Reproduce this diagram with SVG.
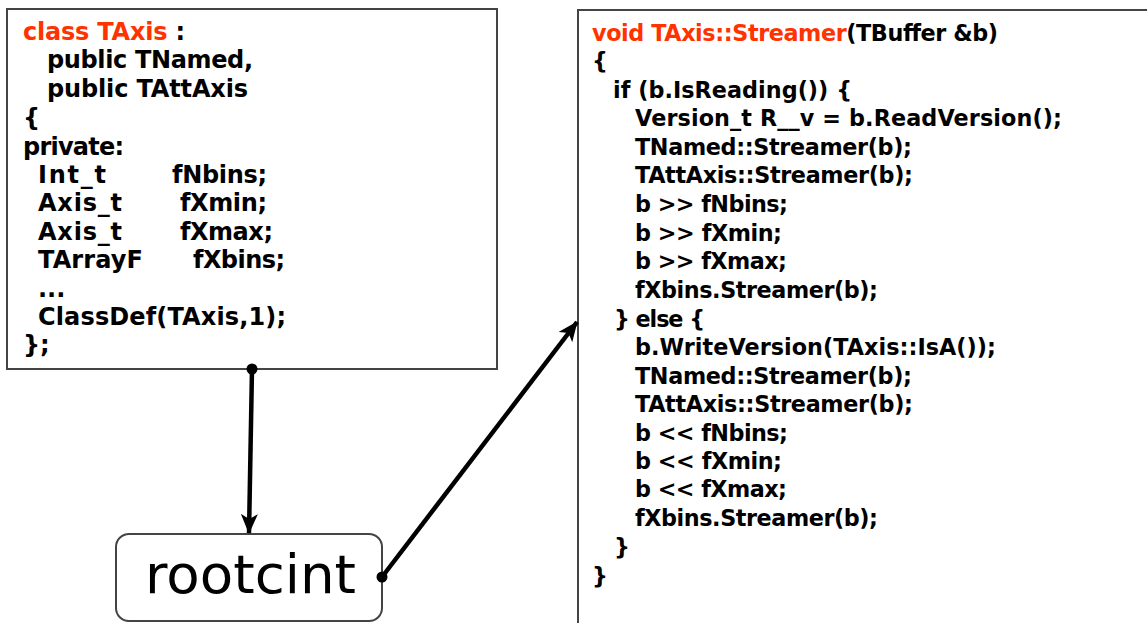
<svg xmlns="http://www.w3.org/2000/svg" width="1147" height="623" viewBox="0 0 1147 623">
<style>
.box{fill:#fff;stroke:#444;stroke-width:2}
.code{font-family:"DejaVu Sans",Verdana,sans-serif;font-weight:bold;fill:#000}
.l{font-size:24px}
.r{font-size:22.3px}
.red{fill:#ff3300}
.conn{stroke:#000;stroke-width:4.5;fill:none}
</style>
<defs>
<marker id="arr" markerWidth="22" markerHeight="18" refX="19" refY="8.5" orient="auto" markerUnits="userSpaceOnUse">
<path d="M0,0 L20,8.5 L0,17 L5,8.5 Z" fill="#000"/>
</marker>
</defs>
<rect width="1147" height="623" fill="#fff"/>
<g id="classdef">
<rect class="box" x="7" y="9" width="490" height="360"/>
<g class="code l">
<text x="23" y="40" textLength="162"><tspan class="red">class TAxis</tspan> :</text>
<text x="47" y="68" textLength="206">public TNamed,</text>
<text x="47" y="97" textLength="201">public TAttAxis</text>
<text x="23" y="126">{</text>
<text x="23" y="155" textLength="101">private:</text>
<text x="38" y="183" textLength="68">Int_t</text>
<text x="172" y="183" textLength="95">fNbins;</text>
<text x="38" y="211" textLength="84">Axis_t</text>
<text x="180" y="211" textLength="87">fXmin;</text>
<text x="38" y="240" textLength="84">Axis_t</text>
<text x="180" y="240" textLength="93">fXmax;</text>
<text x="38" y="268" textLength="105">TArrayF</text>
<text x="193" y="268" textLength="92">fXbins;</text>
<text x="38" y="297">...</text>
<text x="38" y="325" textLength="248">ClassDef(TAxis,1);</text>
<text x="23" y="353">};</text>
</g>
</g>
<g id="streamer">
<rect class="box" x="578" y="10" width="580" height="630"/>
<g class="code r">
<text x="592" y="41" textLength="406"><tspan class="red">void TAxis::Streamer</tspan>(TBuffer &amp;b)</text>
<text x="592" y="69">{</text>
<text x="613" y="98" textLength="239">if (b.IsReading()) {</text>
<text x="635" y="126" textLength="427">Version_t R__v = b.ReadVersion();</text>
<text x="635" y="155" textLength="277">TNamed::Streamer(b);</text>
<text x="635" y="183" textLength="278">TAttAxis::Streamer(b);</text>
<text x="635" y="212" textLength="153">b &gt;&gt; fNbins;</text>
<text x="635" y="241" textLength="147">b &gt;&gt; fXmin;</text>
<text x="635" y="269" textLength="152">b &gt;&gt; fXmax;</text>
<text x="635" y="298" textLength="243">fXbins.Streamer(b);</text>
<text x="614" y="327" textLength="91">} else {</text>
<text x="635" y="355" textLength="361">b.WriteVersion(TAxis::IsA());</text>
<text x="635" y="384" textLength="277">TNamed::Streamer(b);</text>
<text x="635" y="412" textLength="278">TAttAxis::Streamer(b);</text>
<text x="635" y="441" textLength="153">b &lt;&lt; fNbins;</text>
<text x="635" y="469" textLength="147">b &lt;&lt; fXmin;</text>
<text x="635" y="497" textLength="152">b &lt;&lt; fXmax;</text>
<text x="635" y="526" textLength="243">fXbins.Streamer(b);</text>
<text x="614" y="555">}</text>
<text x="592" y="584">}</text>
</g>
</g>
<g id="rootcint">
<rect class="box" x="116" y="534" width="266" height="87" rx="13"/>
<text x="145" y="593" font-family="DejaVu Sans,Verdana,sans-serif" font-size="54" textLength="211" lengthAdjust="spacingAndGlyphs" fill="#000">rootcint</text>
</g>
<g id="connectors">
<circle cx="252" cy="369" r="5.5" fill="#000"/>
<line class="conn" x1="252" y1="369" x2="249" y2="533" marker-end="url(#arr)"/>
<circle cx="382" cy="577" r="5.5" fill="#000"/>
<line class="conn" x1="382" y1="577" x2="577" y2="322" marker-end="url(#arr)"/>
</g>
</svg>
